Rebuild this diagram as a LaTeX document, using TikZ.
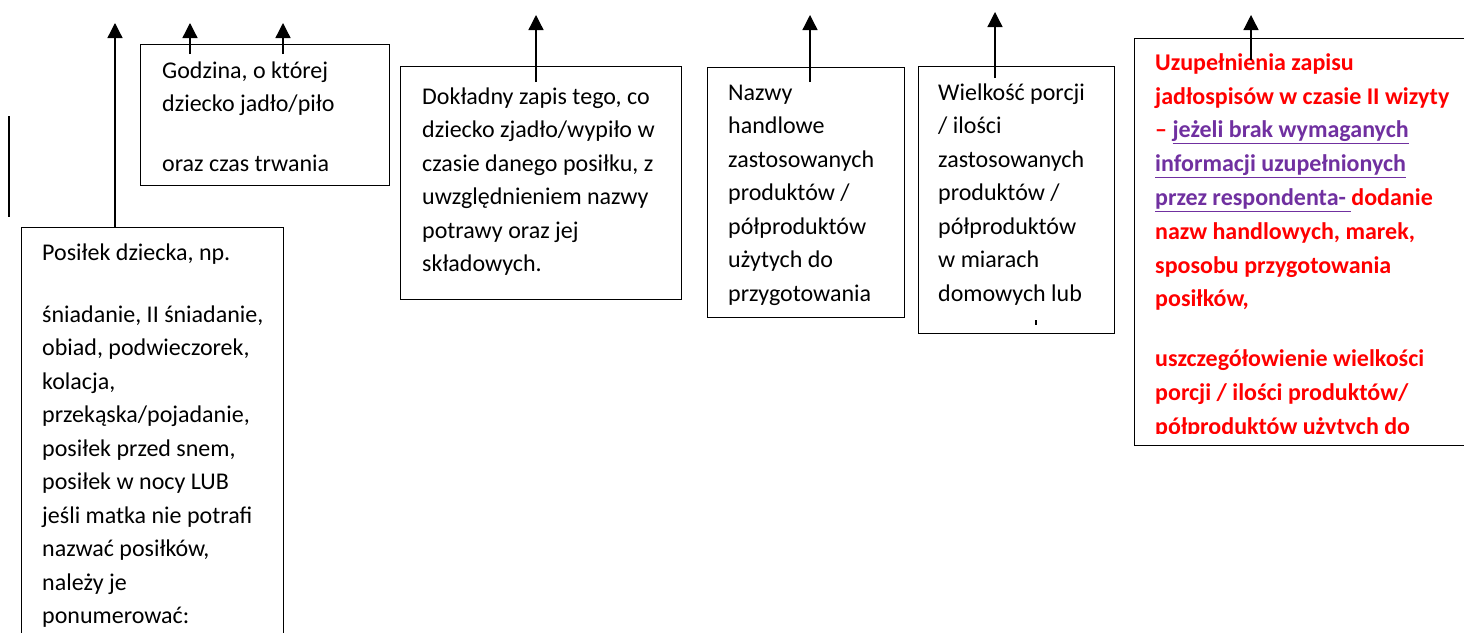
\documentclass[tikz,border=0pt]{standalone}
\usepackage{fontspec}
\setmainfont{Carlito}
\usetikzlibrary{arrows.meta,positioning}
\definecolor{uzred}{RGB}{255,0,0}
\definecolor{uzpurple}{RGB}{112,48,160}

\begin{document}
\begin{tikzpicture}[x=1pt,y=-1pt,
	box/.style={draw,line width=1.3pt,inner sep=0pt,anchor=north west},
	txt/.style={anchor=north west,inner sep=0pt,align=left,font=\fontsize{24}{33.5}\selectfont},
	up/.style={line width=1.3pt,-{Triangle[width=15pt,length=15pt]}}]
				\useasboundingbox (0,0) rectangle (1464,632);
				% boxes
				\node[box,minimum width=262pt,minimum height=420pt] (pos) at (21,227) {};
				\node[box,minimum width=249pt,minimum height=141pt] (godz) at (140,44) {};
				\node[box,minimum width=281pt,minimum height=233pt] (dokl) at (400,66) {};
				\node[box,minimum width=197pt,minimum height=250pt] (naz) at (707,67) {};
				\node[box,minimum width=196pt,minimum height=267pt] (wiel) at (918,66) {};
				\node[box,minimum width=336pt,minimum height=407pt] (uzup) at (1134,38) {};
				\draw[line width=1.3pt] (9,116) -- (9,217);
				% texts
				\node[txt] (posT) at ([xshift=21pt,yshift=-9.5pt]pos.north west)
					{\strut Posiłek dziecka, np.\\[28.5pt]
					śniadanie, II śniadanie,\\
					obiad, podwieczorek,\\
					kolacja,\\
					przekąska/pojadanie,\\
					posiłek przed snem,\\
					posiłek w nocy LUB\\
					jeśli matka nie potrafi\\
					nazwać posiłków,\\
					należy je\\
					ponumerować:};
				\node[txt] (godzT) at ([xshift=22pt,yshift=-10.5pt]godz.north west)
					{\strut Godzina, o której\\
					dziecko jadło/piło\\[26.5pt]
					oraz czas trwania};
				\node[txt] (doklT) at ([xshift=22pt,yshift=-14.5pt]dokl.north west)
					{\strut Dokładny zapis tego, co\\
					dziecko zjadło/wypiło w\\
					czasie danego posiłku, z\\
					uwzględnieniem nazwy\\
					potrawy oraz jej\\
					składowych.};
				\node[txt] (nazT) at ([xshift=21pt,yshift=-9.5pt]naz.north west)
					{\strut Nazwy\\
					handlowe\\
					zastosowanych\\
					produktów /\\
					półproduktów\\
					użytych do\\
					przygotowania};
				\node[txt] (wielT) at ([xshift=20pt,yshift=-10.5pt]wiel.north west)
					{\strut Wielkość porcji\\
					/ ilości\\
					zastosowanych\\
					produktów /\\
					półproduktów\\
					w miarach\\
					domowych lub};
				\draw[line width=1.5pt] (1036,320) -- (1036,325);
				\begin{scope}
					\clip (1134,38) rectangle (1470,433);
					\node[txt,text=uzred,font=\fontsize{24}{33.8}\selectfont\bfseries] (uzupT) at ([xshift=21pt,yshift=-8.5pt]uzup.north west)
						{\strut Uzupełnienia zapisu\\
						jadłospisów w czasie II wizyty\\
						– \textcolor{uzpurple}{\underline{jeżeli brak wymaganych}}\\
						\textcolor{uzpurple}{\underline{informacji uzupełnionych}}\\
						\textcolor{uzpurple}{\underline{przez respondenta-\ }}dodanie\\
						nazw handlowych, marek,\\
						sposobu przygotowania\\
						posiłków,\\[26.2pt]
						uszczegółowienie wielkości\\
						porcji / ilości produktów/\\
						półproduktów użytych do};
				\end{scope}
				% arrows
				\coordinate (posTip) at (115,23);
				\coordinate (godzTipA) at (190,23);
				\coordinate (godzTipB) at (283,23);
				\coordinate (doklTip) at (536,15);
				\coordinate (nazTip) at (810,15);
				\coordinate (wielTip) at (995,12);
				\coordinate (uzupTip) at (1251,15);
				\draw[up] (pos.north -| posTip) -- (posTip);
				\draw[up] ([yshift=-10pt]godz.north -| godzTipA) -- (godzTipA);
				\draw[up] ([yshift=-10pt]godz.north -| godzTipB) -- (godzTipB);
				\draw[up] ([yshift=-16pt]dokl.north -| doklTip) -- (doklTip);
				\draw[up] ([yshift=-15pt]naz.north -| nazTip) -- (nazTip);
				\draw[up] ([yshift=-12pt]wiel.north -| wielTip) -- (wielTip);
				\draw[up] ([yshift=-22pt]uzup.north -| uzupTip) -- (uzupTip);
				\end{tikzpicture}
\end{document}
